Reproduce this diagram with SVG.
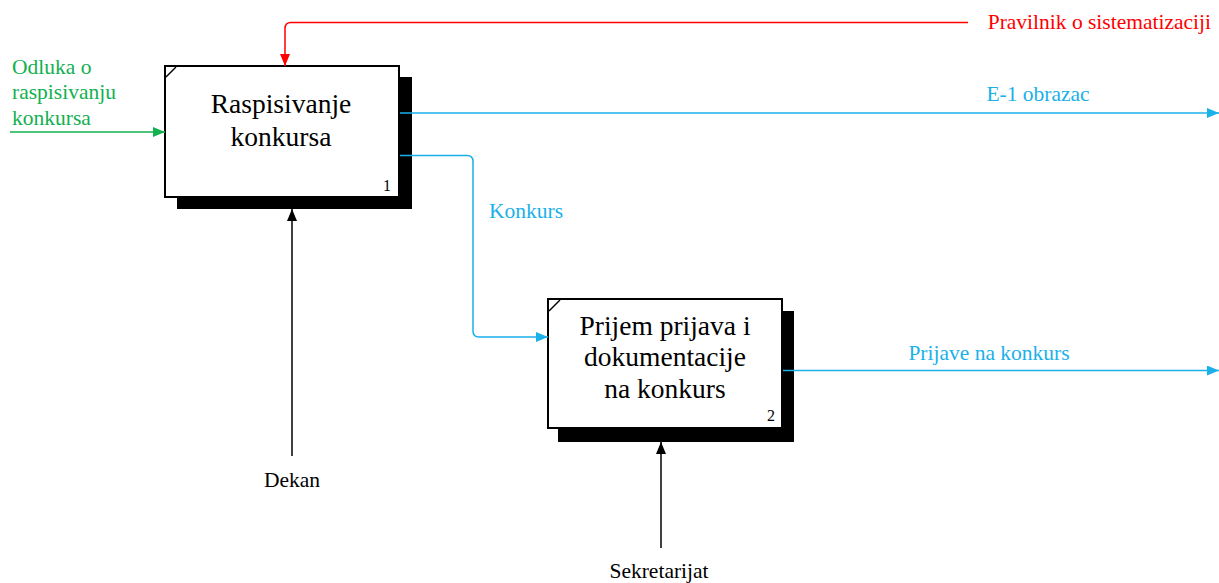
<svg xmlns="http://www.w3.org/2000/svg" width="1219" height="583" viewBox="0 0 1219 583">
  <style>
    .lbl { font-family: "Liberation Serif", "Times New Roman", serif; font-size: 21.5px; }
    .title { font-family: "Liberation Serif", "Times New Roman", serif; font-size: 27.5px; fill: #000; text-anchor: middle; }
    .num { font-family: "Liberation Serif", "Times New Roman", serif; font-size: 16px; fill: #000; text-anchor: end; }
    .box { fill: #fff; stroke: #000; stroke-width: 2; }
    .shadow { fill: #000; }
    .blue { stroke: #1ab0ea; stroke-width: 1.5; fill: none; }
    .red { stroke: #ff0000; stroke-width: 1.5; fill: none; }
    .green { stroke: #12b050; stroke-width: 1.5; fill: none; }
    .black { stroke: #000; stroke-width: 1.5; fill: none; }
  </style>
  <defs>
    <marker id="ahBlue" markerWidth="12" markerHeight="10" refX="12" refY="5" orient="auto" markerUnits="userSpaceOnUse">
      <path d="M0,0 L12,5 L0,10 Z" fill="#1ab0ea"/>
    </marker>
    <marker id="ahRed" markerWidth="12" markerHeight="10" refX="12" refY="5" orient="auto" markerUnits="userSpaceOnUse">
      <path d="M0,0 L12,5 L0,10 Z" fill="#ff0000"/>
    </marker>
    <marker id="ahGreen" markerWidth="12" markerHeight="10" refX="12" refY="5" orient="auto" markerUnits="userSpaceOnUse">
      <path d="M0,0 L12,5 L0,10 Z" fill="#12b050"/>
    </marker>
    <marker id="ahBlack" markerWidth="12" markerHeight="10" refX="12" refY="5" orient="auto" markerUnits="userSpaceOnUse">
      <path d="M0,0 L12,5 L0,10 Z" fill="#000"/>
    </marker>
  </defs>

  <rect width="1219" height="583" fill="#fff"/>

  <g id="node-1">
    <rect class="shadow" x="177" y="77" width="235" height="132"/>
    <rect class="box" x="165" y="66" width="234" height="131"/>
    <path d="M166,77 L176,67" stroke="#000" stroke-width="1.5"/>
    <text class="title" x="281" y="113">Raspisivanje</text>
    <text class="title" x="281" y="146">konkursa</text>
    <text class="num" x="391" y="191">1</text>
  </g>

  <g id="node-2">
    <rect class="shadow" x="558" y="311" width="236" height="131"/>
    <rect class="box" x="548" y="299" width="234" height="129"/>
    <path d="M549,311 L560,300" stroke="#000" stroke-width="1.5"/>
    <text class="title" x="665" y="335">Prijem prijava i</text>
    <text class="title" x="665" y="366">dokumentacije</text>
    <text class="title" x="665" y="398">na konkurs</text>
    <text class="num" x="775" y="421">2</text>
  </g>

  <g id="connectors">
    <!-- control: Pravilnik -->
    <path class="red" d="M968,22.5 L291,22.5 Q285,22.5 285,28.5 L285,66" marker-end="url(#ahRed)"/>
    <!-- input: Odluka -->
    <path class="green" d="M10,132 L165,132" marker-end="url(#ahGreen)"/>
    <!-- output: E-1 obrazac -->
    <path class="blue" d="M400,113 L1219,113" marker-end="url(#ahBlue)"/>
    <!-- output of 1 / input of 2: Konkurs -->
    <path class="blue" d="M400,155.5 L467,155.5 Q473,155.5 473,161.5 L473,331 Q473,337 479,337 L548,337" marker-end="url(#ahBlue)"/>
    <!-- output: Prijave na konkurs -->
    <path class="blue" d="M783,370.5 L1219,370.5" marker-end="url(#ahBlue)"/>
    <!-- mechanism: Dekan -->
    <path class="black" d="M292,456 L292,209" marker-end="url(#ahBlack)"/>
    <!-- mechanism: Sekretarijat -->
    <path class="black" d="M661,548 L661,442" marker-end="url(#ahBlack)"/>
  </g>

  <g id="labels">
    <text class="lbl" x="1211" y="29" fill="#ff0000" text-anchor="end">Pravilnik o sistematizaciji</text>
    <text class="lbl" x="12" y="74" fill="#12b050">Odluka o</text>
    <text class="lbl" x="12" y="99" fill="#12b050">raspisivanju</text>
    <text class="lbl" x="12" y="125" fill="#12b050">konkursa</text>
    <text class="lbl" x="1038" y="101" fill="#1ab0ea" text-anchor="middle">E-1 obrazac</text>
    <text class="lbl" x="489" y="218" fill="#1ab0ea">Konkurs</text>
    <text class="lbl" x="989" y="360" fill="#1ab0ea" text-anchor="middle">Prijave na konkurs</text>
    <text class="lbl" x="292" y="487" fill="#000" text-anchor="middle">Dekan</text>
    <text class="lbl" x="659" y="578" fill="#000" text-anchor="middle">Sekretarijat</text>
  </g>
</svg>
